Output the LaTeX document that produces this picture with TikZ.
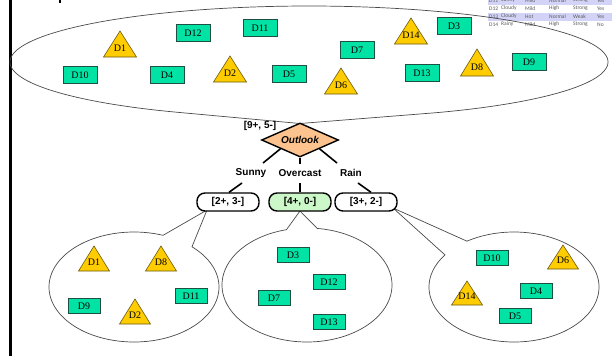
\documentclass[tikz,border=0pt]{standalone}
\usepackage{fontspec}
\setmainfont{Liberation Serif}
\newfontfamily\labelfont{Liberation Sans}
\newfontfamily\tablefont{Carlito}
\usetikzlibrary{shapes.geometric,calc}

\definecolor{dayfill}{HTML}{00E3A5}
\definecolor{dayline}{HTML}{1E4F43}
\definecolor{trifill}{HTML}{FFCC00}
\definecolor{triline}{HTML}{6B5A10}
\definecolor{splitfill}{HTML}{FCC38E}
\definecolor{purefill}{HTML}{CCF7C8}
\definecolor{rowshade}{HTML}{D3D3F7}
\definecolor{tabletext}{HTML}{5A5A5A}
\definecolor{bubbleline}{HTML}{4A4A4A}

\tikzset{
  daybox/.style={draw=dayline, fill=dayfill, line width=0.6pt, minimum width=34pt,
    minimum height=17pt, inner sep=0pt, font=\fontsize{10}{10}\selectfont},
  daysmall/.style={daybox, minimum width=32pt, minimum height=15pt},
  trilabel/.style={inner sep=0pt, font=\fontsize{10}{10}\selectfont},
  trishape/.style={fill=trifill, draw=triline, line width=0.6pt, line join=miter},
  bubble/.style={draw=bubbleline, line width=0.7pt},
  branch/.style={line width=1.6pt},
  countbox/.style={draw, line width=1.4pt, rounded corners=8pt, minimum width=62pt,
    minimum height=18pt, inner sep=0pt, fill=white,
    font=\labelfont\bfseries\fontsize{10}{10}\selectfont},
  valuelabel/.style={inner sep=1pt, font=\labelfont\bfseries\fontsize{10}{10}\selectfont},
  cell/.style={anchor=west, inner sep=0pt, text=tabletext,
    font=\tablefont\fontsize{5.5}{5.5}\selectfont},
}

% \daytri{name}{centre x}{apex y}{base y}{half width}{label}
\newcommand\daytri[6]{%
  \draw[trishape] ({#2-#5},#4) -- (#2,#3) -- ({#2+#5},#4) -- cycle;
  \node[trilabel] (#1) at (#2,{#4-9}) {#6};}

\begin{document}
\begin{tikzpicture}[x=1pt,y=-1pt]
\useasboundingbox (0,0) rectangle (612,356);
\fill[white] (0,0) rectangle (612,356);

% margin rule and tick
\fill[black] (8.7,0) rectangle (11.7,356);
\fill[black] (59,0) rectangle (61,3);

% corner of the data table
\foreach \yy in {-3.5,12.5}
  \foreach \a/\b in {487.5/499.5, 500/523.5, 524/547.5, 548/571.5, 572/595.5, 596/612}
    \fill[rowshade] (\a,\yy) rectangle (\b,{\yy+8});
\foreach \yy/\ca/\cb/\cc/\cd/\ce/\cf in {0.5/D11/Sunny/Mild/Normal/Strong/Yes,
    8.5/D12/Cloudy/Mild/High/Strong/Yes, 16.5/D13/Cloudy/Hot/Normal/Weak/Yes,
    24.5/D14/Rainy/Mild/High/Strong/No}{
  \node[cell] (\ca-day) at (489,\yy) {\ca};
  \node[cell] (\ca-out) at (501,\yy) {\cb};
  \node[cell] (\ca-tmp) at (525,\yy) {\cc};
  \node[cell] (\ca-hum) at (549,\yy) {\cd};
  \node[cell] (\ca-wnd) at (573,\yy) {\ce};
  \node[cell] (\ca-ply) at (597,\yy) {\cf};
}

% speech-bubble outlines
\coordinate (tipT) at (300,123.5);
\coordinate (tipL) at (207,210);
\coordinate (tipM) at (300,211);
\coordinate (tipR) at (393,208);
\draw[bubble] plot[domain=115:425,samples=220] ({309+299*cos(\x)},{62+56*sin(\x)}) -- (tipT) -- cycle;
\draw[bubble] plot[domain=-47:290,samples=150] ({134+85*cos(\x)},{287+55*sin(\x)}) -- (tipL) -- cycle;
\draw[bubble] plot[domain=-83:256,samples=150] ({307+85*cos(\x)},{285+57*sin(\x)}) -- (tipM) -- cycle;
\draw[bubble] plot[domain=236.4:575.7,samples=150] ({514+85*cos(\x)},{287+55*sin(\x)}) -- (tipR) -- cycle;

% all fourteen days
\node[daybox] (topD10) at (80,75) {D10};
\node[daybox] (topD4) at (167,75) {D4};
\node[daybox] (topD12) at (193,33) {D12};
\node[daybox] (topD11) at (260,28) {D11};
\node[daybox] (topD5) at (289,74) {D5};
\node[daybox] (topD7) at (357,50) {D7};
\node[daybox] (topD3) at (454,26) {D3};
\node[daybox] (topD13) at (422,73) {D13};
\node[daybox] (topD9) at (529,62) {D9};
\daytri{topD1}{120}{31}{57}{16.5}{D1}
\daytri{topD2}{230}{56}{82}{16.5}{D2}
\daytri{topD6}{341}{68}{94}{16.5}{D6}
\daytri{topD14}{411}{18}{44}{16.5}{D14}
\daytri{topD8}{477}{49}{76}{16.5}{D8}

% split on Outlook
\node[diamond, draw, line width=1.4pt, fill=splitfill, aspect=2.26, minimum width=77pt,
  minimum height=34pt, inner sep=0pt,
  font=\labelfont\bfseries\itshape\fontsize{10}{10}\selectfont] (dia) at (300,140) {Outlook};
\node[valuelabel] (count) at (260,126) {[9+, 5-]};

\node[valuelabel] (sunny) at (251,173) {Sunny};
\node[valuelabel] (overcast) at (300,173) {Overcast};
\node[valuelabel] (rain) at (351,173) {Rain};

\node[countbox] (b1) at (228,202) {[2+, 3-]};
\node[countbox, fill=purefill] (b2) at (300,202) {[4+, 0-]};
\node[countbox] (b3) at (366,202) {[3+, 2-]};

\coordinate (s1) at (263,163);
\coordinate (o1) at (300,164);
\coordinate (r1) at (337,163);
\coordinate (s2) at (242,183);
\coordinate (o2) at (300,183);
\coordinate (r2) at (358,183);
\draw[branch] (dia.south west) -- (s1);
\draw[branch] (dia.south) -- (o1);
\draw[branch] (dia.south east) -- (r1);
\draw[branch] (s2) -- ($(b1.north)+(1,0)$);
\draw[branch] (o2) -- (b2.north);
\draw[branch] (r2) -- ($(b3.north)+(5,0)$);

% Sunny subset
\daytri{sunD1}{94}{246}{271}{15.5}{D1}
\daytri{sunD8}{161}{246}{271}{15.5}{D8}
\daytri{sunD2}{135}{299}{324}{15.5}{D2}
\node[daysmall] (sunD9) at (84,306) {D9};
\node[daysmall] (sunD11) at (191,296) {D11};

% Overcast subset
\node[daysmall] (ovcD3) at (293,255) {D3};
\node[daysmall] (ovcD12) at (329,282) {D12};
\node[daysmall] (ovcD7) at (274,298) {D7};
\node[daysmall] (ovcD13) at (329,322) {D13};

% Rain subset
\node[daysmall] (rainD10) at (492,258) {D10};
\node[daysmall] (rainD4) at (536,291) {D4};
\node[daysmall] (rainD5) at (515,316) {D5};
\daytri{rainD6}{563}{245}{269}{15.5}{D6}
\daytri{rainD14}{467}{281}{305}{15.5}{D14}
\end{tikzpicture}
\end{document}
